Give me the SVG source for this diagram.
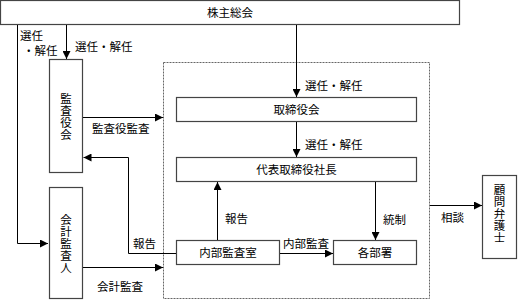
<svg xmlns="http://www.w3.org/2000/svg" width="518" height="301" viewBox="0 0 518 301">
<defs>
<style>
.box{fill:#fff;stroke:#444;stroke-width:1.2}
.ln{fill:none;stroke:#000;stroke-width:1}
.t{font-family:"Noto Sans CJK JP","Noto Sans CJK SC",sans-serif;font-size:11.5px;fill:#000}
.c{text-anchor:middle}
.v{writing-mode:vertical-rl;text-anchor:middle;letter-spacing:0.5px}
.dash{fill:none;stroke:#666;stroke-width:1;stroke-dasharray:2,1}
</style>
<marker id="ah" viewBox="0 0 8 8" refX="8" refY="4" markerWidth="8" markerHeight="8" markerUnits="userSpaceOnUse" orient="auto">
<path d="M0,0 L8,4 L0,8 Z" fill="#000"/>
</marker>
</defs>
<rect width="518" height="301" fill="#fff"/>
<rect class="dash" x="163.5" y="62.5" width="266" height="236"/>
<g id="shareholders"><rect class="box" x="0.5" y="0.5" width="459" height="24"/><text class="t c" x="230" y="17">株主総会</text></g>
<g id="auditboard"><rect class="box" x="49.5" y="59.5" width="33" height="113"/>
<text class="t v" x="66" y="116.5">監査役会</text></g>
<g id="accountant"><rect class="box" x="49.5" y="187.5" width="33" height="111"/>
<text class="t v" x="66" y="243.5">会計監査人</text></g>
<g id="board"><rect class="box" x="176.5" y="97.5" width="240" height="24"/><text class="t c" x="296.5" y="114">取締役会</text></g>
<g id="president"><rect class="box" x="176.5" y="157.5" width="240" height="24"/><text class="t c" x="296.5" y="174">代表取締役社長</text></g>
<g id="internal"><rect class="box" x="176.5" y="240.5" width="103" height="24"/><text class="t c" x="228" y="257">内部監査室</text></g>
<g id="depts"><rect class="box" x="333.5" y="240.5" width="83" height="24"/><text class="t c" x="375" y="257">各部署</text></g>
<g id="lawyer"><rect class="box" x="482.5" y="175.5" width="34" height="83"/>
<text class="t v" x="499.5" y="214">顧問弁護士</text></g>
<g id="connectors">
<polyline class="ln" points="17.5,25 17.5,243.5 48,243.5" marker-end="url(#ah)"/>
<line class="ln" x1="66.5" y1="25" x2="66.5" y2="59" marker-end="url(#ah)"/>
<line class="ln" x1="296.5" y1="25" x2="296.5" y2="97" marker-end="url(#ah)"/>
<line class="ln" x1="296.5" y1="122" x2="296.5" y2="157" marker-end="url(#ah)"/>
<line class="ln" x1="83" y1="117.5" x2="163" y2="117.5" marker-end="url(#ah)"/>
<line class="ln" x1="83" y1="267.5" x2="163" y2="267.5" marker-end="url(#ah)"/>
<polyline class="ln" points="176,253.5 128.5,253.5 128.5,157.5 83.5,157.5" marker-end="url(#ah)"/>
<line class="ln" x1="217.5" y1="240" x2="217.5" y2="182" marker-end="url(#ah)"/>
<line class="ln" x1="280" y1="253.5" x2="333" y2="253.5" marker-end="url(#ah)"/>
<line class="ln" x1="375.5" y1="182" x2="375.5" y2="240" marker-end="url(#ah)"/>
<line class="ln" x1="430" y1="205.5" x2="482" y2="205.5" marker-end="url(#ah)"/>
</g>
<g id="labels">
<text class="t" x="20" y="40">選任</text>
<text class="t" x="23" y="55">・解任</text>
<text class="t" x="75" y="51">選任・解任</text>
<text class="t" x="305" y="90">選任・解任</text>
<text class="t" x="305" y="149">選任・解任</text>
<text class="t" x="92" y="133">監査役監査</text>
<text class="t" x="97" y="291">会計監査</text>
<text class="t" x="133" y="248">報告</text>
<text class="t" x="225" y="223">報告</text>
<text class="t" x="283" y="248">内部監査</text>
<text class="t" x="383" y="224">統制</text>
<text class="t" x="441" y="222">相談</text>
</g>
</svg>
